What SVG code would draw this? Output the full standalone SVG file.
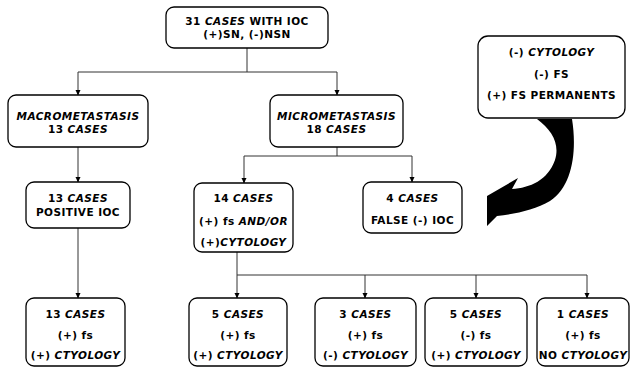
<svg xmlns="http://www.w3.org/2000/svg" width="631" height="369" viewBox="0 0 631 369">
<defs>
<marker id="ah" markerWidth="6" markerHeight="6" refX="5" refY="3" orient="auto" markerUnits="userSpaceOnUse">
<path d="M0,0.5 L5.5,3 L0,5.5 Z" fill="#000"/>
</marker>
<style>
.box{fill:#fff;stroke:#000;stroke-width:1.3}
.t{font-family:"DejaVu Sans","Liberation Sans",sans-serif;font-weight:bold;font-size:10.5px;letter-spacing:0.45px;text-anchor:middle;fill:#000}
.i{font-style:italic}
.c{fill:none;stroke:#333;stroke-width:1}
.a{marker-end:url(#ah)}
</style>
</defs>
<rect width="631" height="369" fill="#fff"/>
<g id="connectors">
<path class="c" d="M247,48 V72 M78,72 H337"/>
<path class="c a" d="M78,72 V95"/>
<path class="c a" d="M337,72 V95"/>
<path class="c a" d="M78,147 V182"/>
<path class="c" d="M337,147 V156 M244,156 H412"/>
<path class="c a" d="M244,156 V183"/>
<path class="c a" d="M412,156 V182"/>
<path class="c a" d="M78,228 V298"/>
<path class="c" d="M237,252 V275 M237,275 H587"/>
<path class="c a" d="M237,275 V298"/>
<path class="c a" d="M365,275 V298"/>
<path class="c a" d="M476,275 V298"/>
<path class="c a" d="M587,275 V298"/>
</g>
<g id="n-top">
<rect class="box" x="166" y="7" width="162" height="41" rx="8"/>
<text class="t" x="247" y="25">31 <tspan class="i">CASES</tspan> WITH IOC</text>
<text class="t" x="247" y="38">(+)SN, (-)NSN</text>
</g>
<g id="n-macro">
<rect class="box" x="8" y="95" width="140" height="52" rx="8"/>
<text class="t i" x="78" y="120">MACROMETASTASIS</text>
<text class="t" x="78" y="133">13 <tspan class="i">CASES</tspan></text>
</g>
<g id="n-micro">
<rect class="box" x="270" y="95" width="133" height="52" rx="8"/>
<text class="t i" x="336.5" y="120">MICROMETASTASIS</text>
<text class="t" x="336.5" y="133">18 <tspan class="i">CASES</tspan></text>
</g>
<g id="n-pos">
<rect class="box" x="26" y="182" width="104" height="46" rx="8"/>
<text class="t" x="78" y="202">13 <tspan class="i">CASES</tspan></text>
<text class="t" x="78" y="216">POSITIVE IOC</text>
</g>
<g id="n-14">
<rect class="box" x="194" y="183" width="99" height="69" rx="8"/>
<text class="t" x="243.5" y="202">14 <tspan class="i">CASES</tspan></text>
<text class="t" x="243.5" y="225">(+) fs <tspan class="i">AND/OR</tspan></text>
<text class="t" x="243.5" y="246">(+)<tspan class="i">CYTOLOGY</tspan></text>
</g>
<g id="n-4">
<rect class="box" x="363" y="182" width="99" height="51" rx="8"/>
<text class="t" x="412.5" y="202">4 <tspan class="i">CASES</tspan></text>
<text class="t" x="412.5" y="224">FALSE (-) IOC</text>
</g>
<g id="n-side">
<rect class="box" x="478" y="36" width="147" height="82" rx="10"/>
<text class="t" x="551.5" y="56">(-) <tspan class="i">CYTOLOGY</tspan></text>
<text class="t" x="551.5" y="78">(-) FS</text>
<text class="t" x="551.5" y="99">(+) FS PERMANENTS</text>
</g>
<path id="curved-arrow" d="M537,119 L572,119 C577,150 573,186 550,201 C535,210 515,214 497,216 L487,226 L487,196 L518,178 L512,189 C530,188 548,180 555,160 C560,144 552,130 537,119 Z" fill="#000"/>
<g id="n-b1">
<rect class="box" x="26" y="298" width="99" height="68" rx="8"/>
<text class="t" x="75.5" y="318">13 <tspan class="i">CASES</tspan></text>
<text class="t" x="75.5" y="339">(+) fs</text>
<text class="t" x="75.5" y="359">(+) <tspan class="i">CTYOLOGY</tspan></text>
</g>
<g id="n-b2">
<rect class="box" x="189" y="298" width="98" height="68" rx="8"/>
<text class="t" x="238" y="318">5 <tspan class="i">CASES</tspan></text>
<text class="t" x="238" y="339">(+) fs</text>
<text class="t" x="238" y="359">(+) <tspan class="i">CTYOLOGY</tspan></text>
</g>
<g id="n-b3">
<rect class="box" x="315" y="298" width="101" height="68" rx="8"/>
<text class="t" x="365.5" y="318">3 <tspan class="i">CASES</tspan></text>
<text class="t" x="365.5" y="339">(+) fs</text>
<text class="t" x="365.5" y="359">(-) <tspan class="i">CTYOLOGY</tspan></text>
</g>
<g id="n-b4">
<rect class="box" x="425" y="298" width="102" height="68" rx="8"/>
<text class="t" x="476" y="318">5 <tspan class="i">CASES</tspan></text>
<text class="t" x="476" y="339">(-) fs</text>
<text class="t" x="476" y="359">(+) <tspan class="i">CTYOLOGY</tspan></text>
</g>
<g id="n-b5">
<rect class="box" x="537" y="298" width="92" height="68" rx="8"/>
<text class="t" x="583" y="318">1 <tspan class="i">CASES</tspan></text>
<text class="t" x="583" y="339">(+) fs</text>
<text class="t" x="583" y="359">NO <tspan class="i">CTYOLOGY</tspan></text>
</g>
</svg>
